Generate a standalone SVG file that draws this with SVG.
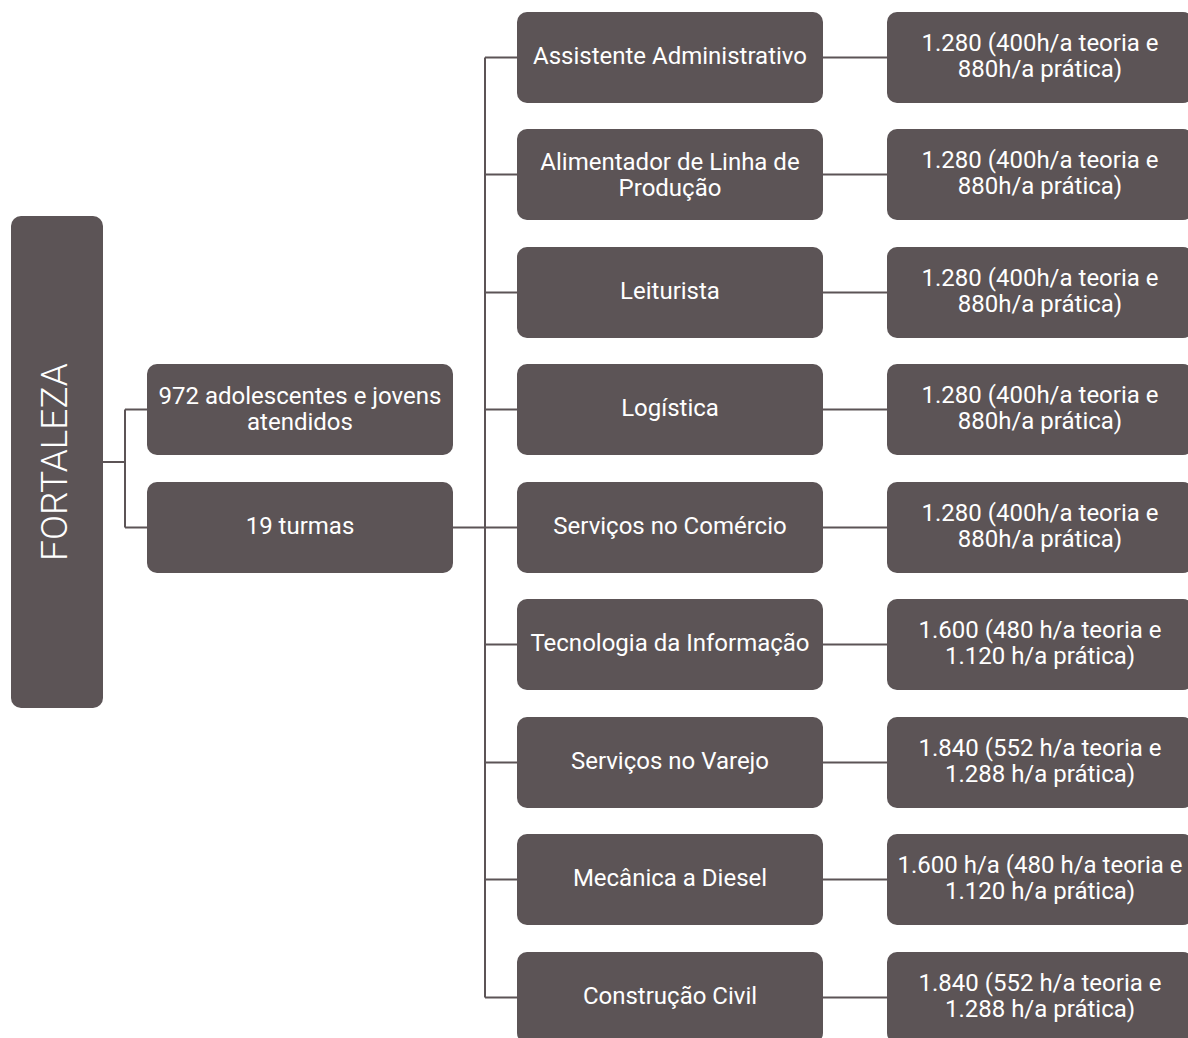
<svg xmlns="http://www.w3.org/2000/svg" width="1188" height="1038" viewBox="0 0 1188 1038">
<style>
.box{fill:#5c5456;}
.t{fill:#ffffff;font-family:Roboto,"Liberation Sans",sans-serif;font-size:24px;text-anchor:middle;}
.big{fill:#ffffff;font-family:Roboto,"Liberation Sans",sans-serif;font-size:37px;font-weight:300;text-anchor:middle;}
.c{stroke:#5c5456;stroke-width:2;fill:none;}
</style>
<rect width="1188" height="1038" fill="#ffffff"/>
<g id="connectors">
<path class="c" d="M103 462H125M125 409.5V527.5M125 409.5H147M125 527.5H147"/>
<path class="c" d="M453 527.5H485M485 57.5V997.5"/>
<path class="c" d="M485 57.5H517M485 174.5H517M485 292.5H517M485 409.5H517M485 527.5H517M485 644.5H517M485 762.5H517M485 879.5H517M485 997.5H517"/>
<path class="c" d="M823 57.5H887M823 174.5H887M823 292.5H887M823 409.5H887M823 527.5H887M823 644.5H887M823 762.5H887M823 879.5H887M823 997.5H887"/>
</g>
<g id="fortaleza"><rect class="box" x="11" y="216" width="92" height="492" rx="10"/><text class="big" transform="translate(67,462) rotate(-90)">FORTALEZA</text></g>
<g id="atendidos"><rect class="box" x="147" y="364" width="306" height="91" rx="10"/><text class="t" x="300" y="404">972 adolescentes e jovens</text><text class="t" x="300" y="430">atendidos</text></g>
<g id="turmas"><rect class="box" x="147" y="482" width="306" height="91" rx="10"/><text class="t" x="300" y="534">19 turmas</text></g>

<g id="c1"><rect class="box" x="517" y="12" width="306" height="91" rx="10"/><text class="t" x="670" y="64">Assistente Administrativo</text></g>
<g id="c2"><rect class="box" x="517" y="129" width="306" height="91" rx="10"/><text class="t" x="670" y="169.5">Alimentador de Linha de</text><text class="t" x="670" y="195.5">Produção</text></g>
<g id="c3"><rect class="box" x="517" y="247" width="306" height="91" rx="10"/><text class="t" x="670" y="299">Leiturista</text></g>
<g id="c4"><rect class="box" x="517" y="364" width="306" height="91" rx="10"/><text class="t" x="670" y="416">Logística</text></g>
<g id="c5"><rect class="box" x="517" y="482" width="306" height="91" rx="10"/><text class="t" x="670" y="534">Serviços no Comércio</text></g>
<g id="c6"><rect class="box" x="517" y="599" width="306" height="91" rx="10"/><text class="t" x="670" y="651">Tecnologia da Informação</text></g>
<g id="c7"><rect class="box" x="517" y="717" width="306" height="91" rx="10"/><text class="t" x="670" y="769">Serviços no Varejo</text></g>
<g id="c8"><rect class="box" x="517" y="834" width="306" height="91" rx="10"/><text class="t" x="670" y="886">Mecânica a Diesel</text></g>
<g id="c9"><rect class="box" x="517" y="952" width="306" height="91" rx="10"/><text class="t" x="670" y="1004">Construção Civil</text></g>

<g id="h1"><rect class="box" x="887" y="12" width="306" height="91" rx="10"/><text class="t" x="1040" y="50.5">1.280 (400h/a teoria e</text><text class="t" x="1040" y="76.5">880h/a prática)</text></g>
<g id="h2"><rect class="box" x="887" y="129" width="306" height="91" rx="10"/><text class="t" x="1040" y="167.5">1.280 (400h/a teoria e</text><text class="t" x="1040" y="193.5">880h/a prática)</text></g>
<g id="h3"><rect class="box" x="887" y="247" width="306" height="91" rx="10"/><text class="t" x="1040" y="285.5">1.280 (400h/a teoria e</text><text class="t" x="1040" y="311.5">880h/a prática)</text></g>
<g id="h4"><rect class="box" x="887" y="364" width="306" height="91" rx="10"/><text class="t" x="1040" y="402.5">1.280 (400h/a teoria e</text><text class="t" x="1040" y="428.5">880h/a prática)</text></g>
<g id="h5"><rect class="box" x="887" y="482" width="306" height="91" rx="10"/><text class="t" x="1040" y="520.5">1.280 (400h/a teoria e</text><text class="t" x="1040" y="546.5">880h/a prática)</text></g>
<g id="h6"><rect class="box" x="887" y="599" width="306" height="91" rx="10"/><text class="t" x="1040" y="637.5">1.600 (480 h/a teoria e</text><text class="t" x="1040" y="663.5">1.120 h/a prática)</text></g>
<g id="h7"><rect class="box" x="887" y="717" width="306" height="91" rx="10"/><text class="t" x="1040" y="755.5">1.840 (552 h/a teoria e</text><text class="t" x="1040" y="781.5">1.288 h/a prática)</text></g>
<g id="h8"><rect class="box" x="887" y="834" width="306" height="91" rx="10"/><text class="t" x="1040" y="872.5">1.600 h/a (480 h/a teoria e</text><text class="t" x="1040" y="898.5">1.120 h/a prática)</text></g>
<g id="h9"><rect class="box" x="887" y="952" width="306" height="91" rx="10"/><text class="t" x="1040" y="990.5">1.840 (552 h/a teoria e</text><text class="t" x="1040" y="1016.5">1.288 h/a prática)</text></g>
</svg>
